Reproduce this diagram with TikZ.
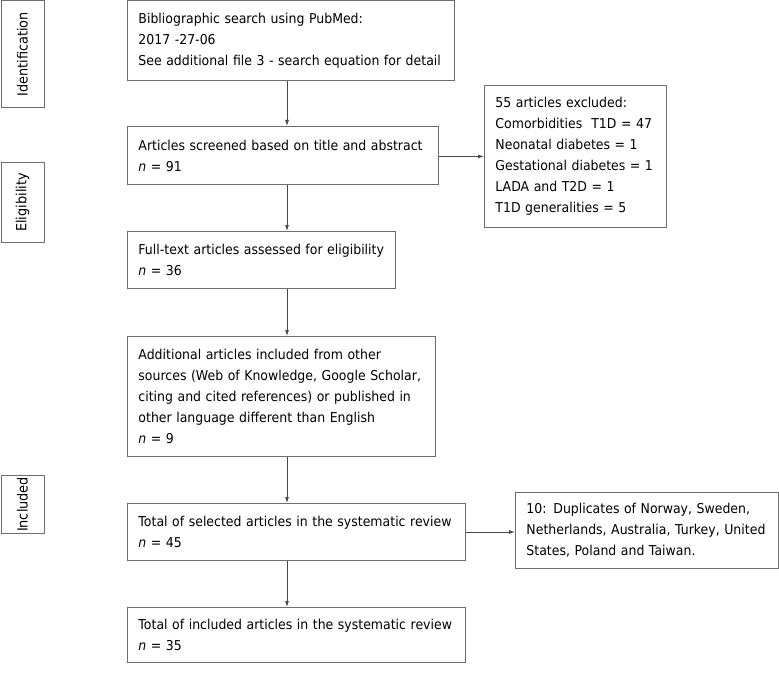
\documentclass[tikz,border=0pt]{standalone}
\usepackage{fontspec}
\setmainfont{DejaVu Sans}[FakeStretch=0.92]
\usepackage{tikz}
\usetikzlibrary{arrows.meta,positioning,calc}
\definecolor{boxgray}{HTML}{6E6E6E}
\definecolor{linegray}{HTML}{4A4A4A}
\tikzstyle{box} = [draw=boxgray, line width=0.9pt, rectangle, anchor=north west, inner xsep=11pt, align=left, font=\fontsize{13.6}{21}\selectfont]
\tikzstyle{side} = [draw=boxgray, line width=0.9pt, rectangle, anchor=north west, minimum width=43pt, inner sep=0pt]
\tikzstyle{line} = [draw=linegray, line width=0.8pt, >={Latex[length=6pt,width=4pt]}]
\newcommand{\nn}{\textit{n}}
\begin{document}
\begin{tikzpicture}[x=1pt,y=-1pt]
      \useasboundingbox (0,0) rectangle (779,682);
      \node [side, minimum height=107pt] (ident) at (0.5,0.5) {};
      \node [rotate=90, font=\fontsize{14}{16}\selectfont] at (ident) {Identification};
      \node [side, minimum height=80pt] (elig) at (0.5,162) {};
      \node [rotate=90, font=\fontsize{14}{16}\selectfont] at (elig) {Eligibility};
      \node [side, minimum height=58pt] (incl) at (0.5,475) {};
      \node [rotate=90, font=\fontsize{14}{16}\selectfont] at (incl) {Included};
      \node [box, minimum width=327pt, minimum height=80pt, text width=305pt] (search) at (127,0.5) {Bibliographic search using PubMed:\\2017 -27-06\\See additional file 3 - search equation for detail};
      \node [box, minimum width=311pt, minimum height=58pt, text width=289pt] (screen) at (127,126) {Articles screened based on title and abstract\\\nn{} = 91};
      \node [box, minimum width=182pt, minimum height=142pt, text width=160pt] (excl) at (484,85) {55 articles excluded:\\Comorbidities\ \ T1D = 47\\Neonatal diabetes = 1\\Gestational diabetes = 1\\LADA and T2D = 1\\T1D generalities = 5};
      \node [box, minimum width=268pt, minimum height=57pt, text width=246pt] (full) at (127,231) {Full-text articles assessed for eligibility\\\nn{} = 36};
      \node [box, minimum width=308pt, minimum height=120pt, text width=286pt] (addl) at (127,336) {Additional articles included from other\\sources (Web of Knowledge, Google Scholar,\\citing and cited references) or published in\\other language different than English\\\nn{} = 9};
      \node [box, minimum width=338pt, minimum height=57pt, text width=316pt] (sel) at (127,503) {Total of selected articles in the systematic review\\\nn{} = 45};
      \node [box, minimum width=263pt, minimum height=76pt, text width=241pt] (dup) at (515,492) {10: Duplicates of Norway, Sweden,\\Netherlands, Australia, Turkey, United\\States, Poland and Taiwan.};
      \node [box, minimum width=338pt, minimum height=55pt, text width=316pt] (final) at (127,607) {Total of included articles in the systematic review\\\nn{} = 35};
      \coordinate (ax) at (287,0);
      \path [line,->] (search.south -| ax) -- (screen.north -| ax);
      \path [line,->] (screen.south -| ax) -- (full.north -| ax);
      \path [line,->] (full.south -| ax) -- (addl.north -| ax);
      \path [line,->] (addl.south -| ax) -- (sel.north -| ax);
      \path [line,->] (sel.south -| ax) -- (final.north -| ax);
      \path [line,->] (screen.east |- excl.west) -- (excl.west);
      \path [line,->] (sel.east) -- (dup.west |- sel.east);
    \end{tikzpicture}
\end{document}
